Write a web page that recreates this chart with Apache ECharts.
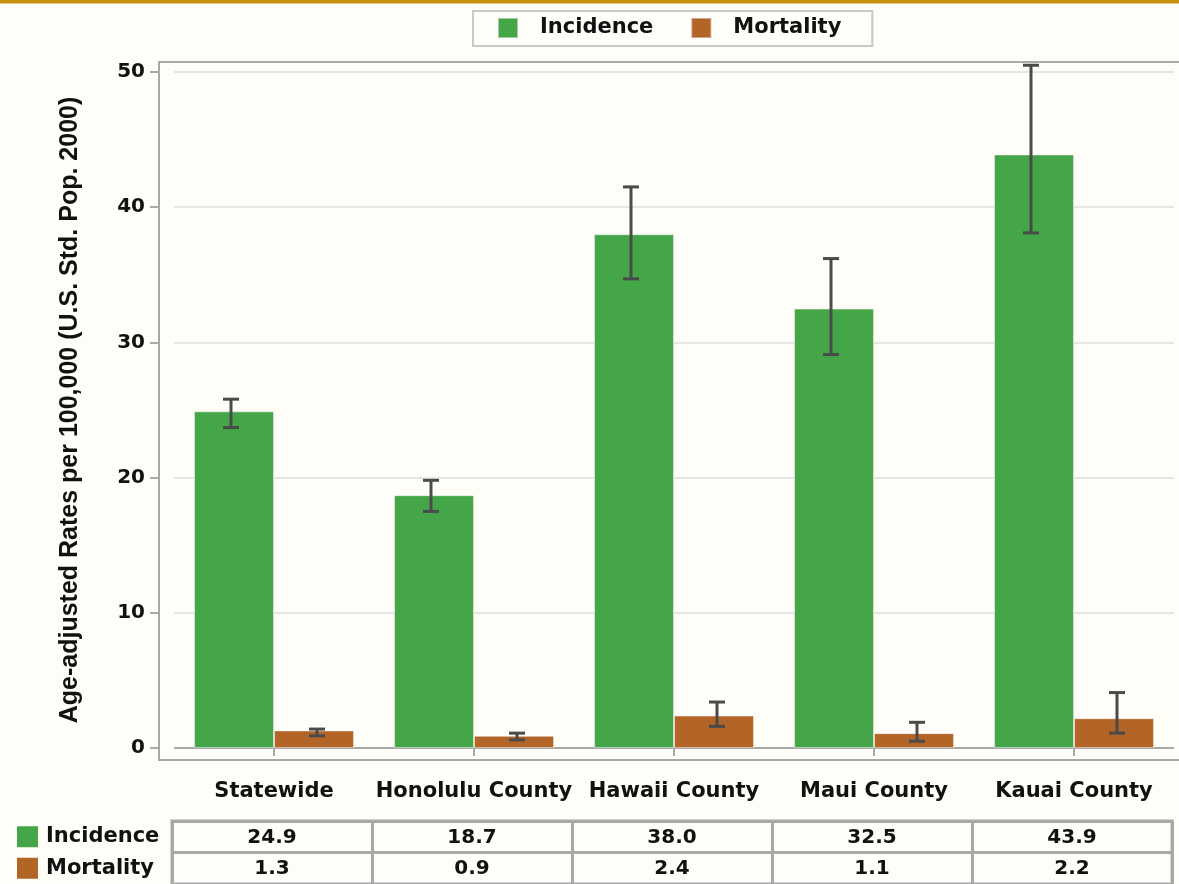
<!DOCTYPE html>
<html><head><meta charset="utf-8">
<script src="https://cdn.jsdelivr.net/npm/echarts@6/dist/echarts.min.js"></script>
<style>html,body{margin:0;padding:0;background:#fffdf8;} #c{width:1179px;height:884px;}</style>
</head><body><div id="c"></div>
<script>
const categories = ['Statewide', 'Honolulu County', 'Hawaii County', 'Maui County', 'Kauai County'];
const incidence = [24.9, 18.7, 38.0, 32.5, 43.9];
const mortality = [1.3, 0.9, 2.4, 1.1, 2.2];
const incidenceLower = [23.7, 17.5, 34.7, 29.1, 38.1];
const incidenceUpper = [25.8, 19.8, 41.5, 36.2, 50.5];
const mortalityLower = [0.9, 0.6, 1.6, 0.5, 1.1];
const mortalityUpper = [1.4, 1.1, 3.4, 1.9, 4.1];
const yTicks = [0, 10, 20, 30, 40, 50];
const tableRows = ['Incidence', 'Mortality'];

const GREEN = '#44a648', BROWN = '#b36528';
const FONT = 'DejaVu Sans';
const chart = echarts.init(document.getElementById('c'));

function errorRender(sign) {
  return function (params, api) {
    const i = api.value(0);
    const lo = api.coord([i, api.value(1)]);
    const hi = api.coord([i, api.value(2)]);
    const band = api.size([1, 0])[0];
    const x = lo[0] + sign * band * 0.215;
    const cap = 8;
    const style = { stroke: '#4a4a4a', lineWidth: 3 };
    return { type: 'group', children: [
      { type: 'line', shape: { x1: x, y1: lo[1], x2: x, y2: hi[1] }, style: style },
      { type: 'line', shape: { x1: x - cap, y1: lo[1], x2: x + cap, y2: lo[1] }, style: style },
      { type: 'line', shape: { x1: x - cap, y1: hi[1], x2: x + cap, y2: hi[1] }, style: style }
    ] };
  };
}

const tableData = [];
incidence.forEach((v, i) => tableData.push([i, 0, v]));
mortality.forEach((v, i) => tableData.push([i, 1, v]));

const option = {
  backgroundColor: '#fffdf8',
  animation: false,
  graphic: [
    { type: 'rect', shape: { x: 0, y: 0, width: 1179, height: 3.5 }, style: { fill: '#c8900c' }, silent: true },
    { type: 'rect', shape: { x: 159, y: 62, width: 1100, height: 698 }, style: { fill: 'none', stroke: '#a9a9a9', lineWidth: 2 }, silent: true, z: -1 }
  ],
  legend: {
    data: ['Incidence', 'Mortality'],
    left: 473, top: 11,
    itemWidth: 20, itemHeight: 20, itemGap: 37, icon: 'rect',
    padding: [6, 31, 7, 24],
    borderColor: '#c8c8c8', borderWidth: 2,
    textStyle: { fontFamily: FONT, fontWeight: 'bold', fontSize: 21, color: '#111', padding: [0, 0, 0, 17] }
  },
  grid: [
    { left: 174, width: 1000, top: 72, height: 676 },
    { left: 172, width: 1000, top: 821, height: 64, show: true, borderColor: '#a8a8a8', borderWidth: 3 }
  ],
  xAxis: [
    {
      type: 'category', data: categories, gridIndex: 0, offset: 12,
      axisLine: { show: false },
      axisTick: { show: true, alignWithLabel: true, length: 8, lineStyle: { color: '#a9a9a9', width: 2 } },
      axisLabel: { fontFamily: FONT, fontWeight: 'bold', fontSize: 21, color: '#111', margin: 21, interval: 0 }
    },
    {
      type: 'category', data: categories, gridIndex: 1,
      axisLine: { show: false }, axisTick: { show: false }, axisLabel: { show: false },
      splitLine: { show: true, interval: 0, lineStyle: { color: '#a8a8a8', width: 3 } }
    }
  ],
  yAxis: [
    {
      type: 'value', gridIndex: 0, min: yTicks[0], max: yTicks[yTicks.length - 1], interval: yTicks[1] - yTicks[0],
      offset: 15,
      name: 'Age-adjusted Rates per 100,000 (U.S. Std. Pop. 2000)',
      nameLocation: 'middle', nameGap: 76,
      nameTextStyle: { fontFamily: 'Liberation Sans', fontWeight: 'bold', fontSize: 25, color: '#111' },
      axisLine: { show: false },
      axisTick: { show: true, length: 9, lineStyle: { color: '#a9a9a9', width: 2 } },
      axisLabel: { fontFamily: FONT, fontWeight: 'bold', fontSize: 20, color: '#111', margin: 14 },
      splitLine: { show: true, lineStyle: { color: ['#a9a9a9', '#e6e6e6', '#e6e6e6', '#e6e6e6', '#e6e6e6', '#e6e6e6'], width: 2 } }
    },
    {
      type: 'category', data: tableRows, gridIndex: 1, inverse: true,
      axisLine: { show: false }, axisTick: { show: false },
      splitLine: { show: true, interval: 0, lineStyle: { color: '#a8a8a8', width: 3 } },
      axisLabel: {
        align: 'left', margin: 155,
        formatter: function (v) { return v === 'Incidence' ? '{g|}{t|' + v + '}' : '{m|}{t|' + v + '}'; },
        rich: {
          g: { width: 21, height: 21, backgroundColor: GREEN },
          m: { width: 21, height: 21, backgroundColor: BROWN },
          t: { fontFamily: FONT, fontWeight: 'bold', fontSize: 21, color: '#111', padding: [0, 0, 0, 8] }
        }
      }
    }
  ],
  series: [
    { name: 'Incidence', type: 'bar', data: incidence, barWidth: 80, barGap: 0, xAxisIndex: 0, yAxisIndex: 0,
      itemStyle: { color: GREEN, borderColor: 'rgba(255,255,255,0.45)', borderWidth: 1 } },
    { name: 'Mortality', type: 'bar', data: mortality, barWidth: 80, barGap: 0, xAxisIndex: 0, yAxisIndex: 0,
      itemStyle: { color: BROWN, borderColor: 'rgba(255,255,255,0.45)', borderWidth: 1 } },
    { name: 'incErr', type: 'custom', xAxisIndex: 0, yAxisIndex: 0, z: 5,
      data: incidence.map((v, i) => [i, incidenceLower[i], incidenceUpper[i]]),
      encode: { x: 0, y: [1, 2] }, renderItem: errorRender(-1) },
    { name: 'morErr', type: 'custom', xAxisIndex: 0, yAxisIndex: 0, z: 5,
      data: mortality.map((v, i) => [i, mortalityLower[i], mortalityUpper[i]]),
      encode: { x: 0, y: [1, 2] }, renderItem: errorRender(1) },
    { name: 'table', type: 'custom', xAxisIndex: 1, yAxisIndex: 1, data: tableData, silent: true,
      encode: { x: 0, y: 1 },
      renderItem: function (params, api) {
        const p = api.coord([api.value(0), api.value(1)]);
        return { type: 'text', style: { text: api.value(2).toFixed(1), x: p[0], y: p[1] + 1, align: 'center', verticalAlign: 'middle',
          fontFamily: FONT, fontWeight: 'bold', fontSize: 20, fill: '#111' } };
      } }
  ]
};
chart.setOption(option);
</script>
</body></html>
